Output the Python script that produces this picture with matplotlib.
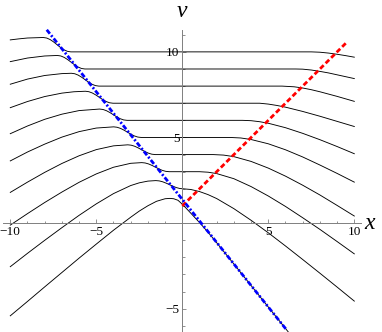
import matplotlib
matplotlib.use("Agg")
import matplotlib.pyplot as plt
from matplotlib.ticker import MultipleLocator

# level curves nu_n(x), n = 1..10
x1 = [-10, -9, -8, -7, -6, -5, -4, -3, -2.5, -2, -1.5, -1, -0.72, -0.5, -0.25, 0, 0.25, 0.5, 0.75, 1, 1.5, 2, 3, 4, 5, 6.2]
v1 = [-5.42, -4.58, -3.73, -2.89, -2.05, -1.23, -0.42, 0.34, 0.70, 1.01, 1.27, 1.42, 1.44, 1.42, 1.33, 1.10, 0.84, 0.57, 0.30, 0.03, -0.54, -1.15, -2.395, -3.65, -4.905, -6.41]

x2 = [-10, -9, -8, -7, -6, -5, -4, -3, -2.5, -2, -1.54, -1.34, -1.14, -0.94, -0.74, -0.54, -0.34, -0.14, 0.06,
      0.5, 1, 1.5, 2, 3, 4, 5, 6, 7, 8, 9, 10]
v2 = [-2.55, -1.77, -1.01, -0.27, 0.45, 1.12, 1.72, 2.19, 2.35, 2.45, 2.48, 2.462, 2.41, 2.332, 2.24, 2.148, 2.07, 2.018, 2.0,
      1.96, 1.84, 1.66, 1.43, 0.84, 0.16, -0.57, -1.34, -2.13, -2.93, -3.74, -4.56]

x3 = [-10, -9, -8, -7, -6, -5, -4, -3, -2.36, -2.16, -1.96, -1.76, -1.56, -1.36, -1.16, -0.96, -0.76,
      1, 1.5, 2, 3, 4, 5, 6, 7, 8, 9, 10]
v3 = [-0.12, 0.55, 1.20, 1.81, 2.38, 2.87, 3.26, 3.49, 3.53, 3.51, 3.453, 3.366, 3.265, 3.164, 3.077, 3.02, 3.0,
      3.0, 2.97, 2.89, 2.59, 2.13, 1.58, 0.97, 0.31, -0.37, -1.08, -1.80]

x4 = [-10, -9, -8, -7, -6, -5, -4, -3.17, -2.97, -2.77, -2.57, -2.37, -2.17, -1.97, -1.77, -1.57,
      1.8, 2.4, 3, 4, 5, 6, 7, 8, 9, 10]
v4 = [1.79, 2.39, 2.96, 3.48, 3.93, 4.29, 4.51, 4.57, 4.548, 4.487, 4.394, 4.285, 4.176, 4.083, 4.022, 4.0,
      4.0, 3.97, 3.88, 3.60, 3.21, 2.74, 2.21, 1.64, 1.03, 0.41]

x5 = [-10, -9, -8, -7, -6, -5, -3.99, -3.79, -3.59, -3.39, -3.19, -2.99, -2.79, -2.59, -2.39,
      2.8, 3.4, 4, 5, 6, 7, 8, 9, 10]
v5 = [3.63, 4.15, 4.61, 5.02, 5.34, 5.55, 5.62, 5.596, 5.529, 5.428, 5.31, 5.192, 5.091, 5.024, 5.0,
      5.0, 4.97, 4.88, 4.63, 4.28, 3.86, 3.39, 2.90, 2.39]

x6 = [-10, -9, -8, -7, -6, -4.81, -4.61, -4.41, -4.21, -4.01, -3.81, -3.61, -3.41, -3.21,
      3.5, 4, 4.5, 5, 6, 7, 8, 9, 10]
v6 = [5.22, 5.67, 6.06, 6.36, 6.57, 6.66, 6.635, 6.564, 6.456, 6.33, 6.204, 6.096, 6.025, 6.0,
      6.0, 5.98, 5.92, 5.83, 5.57, 5.24, 4.87, 4.47, 4.05]

x7 = [-10, -9, -8, -7, -6.3, -5.63, -5.43, -5.23, -5.03, -4.83, -4.63, -4.43, -4.23, -4.03,
      4.2, 4.5, 5, 5.5, 6, 7, 8, 9, 10]
v7 = [6.74, 7.10, 7.39, 7.59, 7.67, 7.70, 7.673, 7.598, 7.484, 7.35, 7.216, 7.102, 7.027, 7.0,
      7.0, 7.0, 6.95, 6.87, 6.77, 6.52, 6.24, 5.94, 5.64]

x8 = [-10, -9, -8, -7, -6.45, -6.25, -6.05, -5.85, -5.65, -5.45, -5.25, -5.05, -4.85,
      5.8, 6.5, 7, 7.5, 8, 9, 10]
v8 = [8.11, 8.41, 8.62, 8.73, 8.75, 8.722, 8.641, 8.518, 8.375, 8.232, 8.11, 8.029, 8.0,
      8.0, 7.96, 7.89, 7.79, 7.67, 7.40, 7.11]

x9 = [-10, -9, -8, -7.26, -7.06, -6.86, -6.66, -6.46, -6.26, -6.06, -5.86, -5.66,
      6.6, 7, 7.5, 8, 8.5, 9, 9.5, 10]
v9 = [9.43, 9.64, 9.76, 9.79, 9.76, 9.675, 9.546, 9.395, 9.244, 9.115, 9.03, 9.0,
      9.0, 8.99, 8.94, 8.86, 8.77, 8.66, 8.55, 8.44]

x10 = [-10, -9.5, -9, -8.08, -7.88, -7.68, -7.48, -7.28, -7.08, -6.88, -6.68, -6.48,
       7.5, 8, 8.5, 9, 9.5, 10]
v10 = [10.70, 10.76, 10.81, 10.84, 10.808, 10.717, 10.58, 10.42, 10.26, 10.123, 10.032, 10.0,
       10.0, 9.98, 9.93, 9.86, 9.78, 9.69]

# straight guide lines
blue_x = [-7.88, 6.03]
blue_v = [11.29, -6.2]
red_x = [0.0, 9.55]
red_v = [1.0, 10.55]

curves = [(x1, v1), (x2, v2), (x3, v3), (x4, v4), (x5, v5),
          (x6, v6), (x7, v7), (x8, v8), (x9, v9), (x10, v10)]

serif = ["Liberation Serif", "DejaVu Serif"]

fig = plt.figure(figsize=(3.82, 3.32), dpi=100)
ax = fig.add_axes([0.0089, -0.0018, 0.9366, 0.910])

for xs, vs in curves:
    ax.plot(xs, vs, color="black", lw=0.65, solid_joinstyle="round")

ax.plot(red_x, red_v, color="red", lw=2.0, dashes=(1.8, 1.0), zorder=3)
ax.plot(blue_x, blue_v, color="blue", lw=2.0, dashes=(1.8, 0.75, 0.7, 0.75),
        zorder=4, clip_on=False)

ax.set_xlim(-10.4, 10.4)
ax.set_ylim(-6.4, 11.25)

for side in ["top", "right"]:
    ax.spines[side].set_visible(False)
for side in ["left", "bottom"]:
    ax.spines[side].set_position(("data", 0))
    ax.spines[side].set_color("#7f7f7f")
    ax.spines[side].set_linewidth(0.7)

ax.set_xticks([-10, -5, 5, 10])
ax.set_yticks([-5, 5, 10])
ax.set_xticklabels(["\u221210", "\u22125", "5", "10"])
ax.set_yticklabels(["\u22125", "5", "10"])
ax.xaxis.set_minor_locator(MultipleLocator(1))
ax.yaxis.set_minor_locator(MultipleLocator(1))
ax.tick_params(which="both", direction="in", color="#7f7f7f", width=0.6,
               labelsize=9.5, pad=2)
ax.tick_params(which="major", length=3.2)
ax.tick_params(which="minor", length=1.8)
for lab in ax.get_xticklabels() + ax.get_yticklabels():
    lab.set_family(serif)

ax.text(0, 12.35, "\u03bd", family=serif, style="italic", fontsize=17,
        ha="center", va="center", clip_on=False)
ax.text(10.9, 0, "x", family=serif, style="italic", fontsize=17,
        ha="center", va="center", clip_on=False)

fig.savefig("out.png", dpi=100)
